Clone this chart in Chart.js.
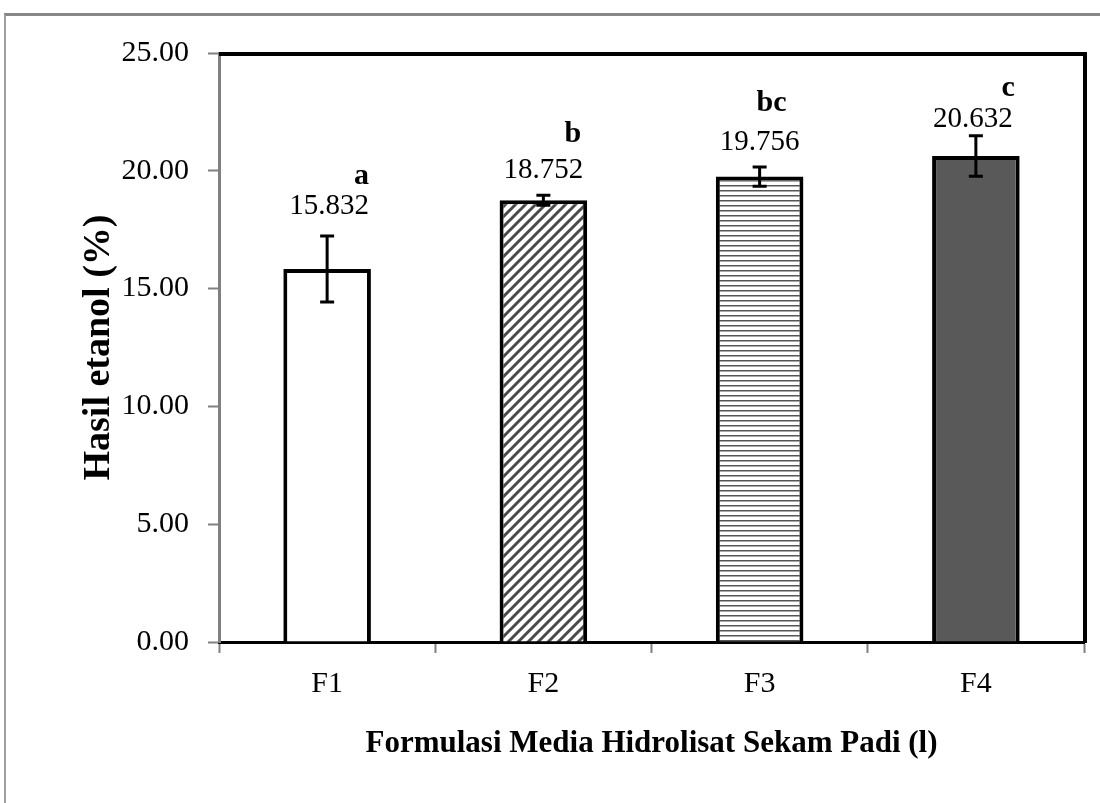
<!DOCTYPE html>
<html>
<head>
<meta charset="utf-8">
<script src="https://cdn.jsdelivr.net/npm/chart.js@4.4.1/dist/chart.umd.min.js"></script>
<style>
  html, body { margin: 0; padding: 0; background: #fff; overflow: hidden; }
  #wrap { position: relative; width: 1100px; height: 803px; }
  #frame {
    position: absolute; left: 4px; top: 13px; width: 1200px; height: 900px;
    border-top: 3px solid #878787; border-left: 2px solid #a0a0a0;
    box-sizing: border-box; pointer-events: none;
  }
  canvas { position: absolute; left: 0; top: 0; }
</style>
</head>
<body>
<div id="wrap">
  <div id="frame"></div>
  <canvas id="chart" width="1100" height="803"></canvas>
</div>
<script>
// Ethanol yield per hydrolysate medium formulation
const categories = ['F1', 'F2', 'F3', 'F4'];
const ethanolYield = [15.832, 18.752, 19.756, 20.632];
const stdError = [1.40, 0.21, 0.41, 0.86];
const significance = ['a', 'b', 'bc', 'c'];
const yAxisMin = 0;
const yAxisMax = 25;
const yAxisStep = 5;

// Placement of the value text and the significance letter (pixels)
const valueTextShift = [
  { dx: 2, dy: 22 },
  { dx: 0, dy: 17 },
  { dx: 0, dy: 17 },
  { dx: -3, dy: 9 }
];
const letterShift = [
  { dx: 0, dy: 30 },
  { dx: -2, dy: 36 },
  { dx: -13, dy: 39 },
  { dx: 2, dy: 31 }
];

const SERIF = '"Liberation Serif", "Times New Roman", serif';

function diagonalHatch() {
  const c = document.createElement('canvas');
  c.width = 10; c.height = 10;
  const g = c.getContext('2d');
  g.fillStyle = '#fff';
  g.fillRect(0, 0, 10, 10);
  g.strokeStyle = '#4a4a4a';
  g.lineWidth = 3;
  g.beginPath();
  g.moveTo(-5, 5); g.lineTo(5, -5);
  g.moveTo(0, 10); g.lineTo(10, 0);
  g.moveTo(5, 15); g.lineTo(15, 5);
  g.stroke();
  return g.createPattern(c, 'repeat');
}

function horizontalHatch() {
  const c = document.createElement('canvas');
  c.width = 6; c.height = 5;
  const g = c.getContext('2d');
  g.fillStyle = '#fff';
  g.fillRect(0, 0, 6, 5);
  g.fillStyle = '#555';
  g.fillRect(0, 0, 6, 1.5);
  return g.createPattern(c, 'repeat');
}

const ctx = document.getElementById('chart').getContext('2d');

// Error bars, value text and significance letters
const annotations = {
  id: 'annotations',
  afterDatasetsDraw(chart) {
    const g = chart.ctx;
    const y = chart.scales.y;
    const meta = chart.getDatasetMeta(0);
    g.save();
    meta.data.forEach((bar, i) => {
      const x = bar.x;
      const top = y.getPixelForValue(ethanolYield[i] + stdError[i]);
      const bottom = y.getPixelForValue(ethanolYield[i] - stdError[i]);
      g.strokeStyle = '#000';
      g.lineWidth = 3;
      g.beginPath();
      g.moveTo(x, top); g.lineTo(x, bottom);
      g.moveTo(x - 7, top); g.lineTo(x + 7, top);
      g.moveTo(x - 7, bottom); g.lineTo(x + 7, bottom);
      g.stroke();

      const text = ethanolYield[i].toFixed(3);
      g.font = '29px ' + SERIF;
      g.fillStyle = '#000';
      g.textAlign = 'center';
      g.textBaseline = 'alphabetic';
      const tx = x + valueTextShift[i].dx;
      const ty = top - valueTextShift[i].dy;
      g.fillText(text, tx, ty);
      const right = tx + g.measureText(text).width / 2;

      g.font = 'bold 30px ' + SERIF;
      g.textAlign = 'right';
      g.fillText(significance[i], right + letterShift[i].dx, ty - letterShift[i].dy);
    });
    g.restore();
  }
};

// Heavy black frame on the top and right of the plot area
const plotFrame = {
  id: 'plotFrame',
  afterDraw(chart) {
    const { left, right, top } = chart.chartArea;
    const g = chart.ctx;
    g.save();
    g.strokeStyle = '#000';
    g.lineWidth = 4;
    g.beginPath();
    g.moveTo(left, top + 1);
    g.lineTo(right + 1, top + 1);
    g.lineTo(right + 1, chart.scales.y.bottom + 1);
    g.stroke();
    g.restore();
  }
};

new Chart(ctx, {
  type: 'bar',
  data: {
    labels: categories,
    datasets: [{
      data: ethanolYield,
      backgroundColor: ['#ffffff', diagonalHatch(), horizontalHatch(), '#595959'],
      borderColor: '#000',
      borderWidth: 4,
      categoryPercentage: 1,
      barPercentage: 0.405
    }]
  },
  options: {
    responsive: false,
    animation: false,
    layout: { padding: { top: 53, right: 16, left: 0, bottom: 0 } },
    plugins: { legend: { display: false }, tooltip: { enabled: false } },
    scales: {
      x: {
        grid: {
          display: true, drawOnChartArea: false, offset: true,
          tickLength: 11, tickColor: '#808080', tickWidth: 2
        },
        border: { display: true, color: '#000', width: 3 },
        ticks: { color: '#000', font: { family: SERIF, size: 30 }, padding: 13 },
        title: {
          display: true,
          text: 'Formulasi Media Hidrolisat Sekam Padi (l)',
          color: '#000',
          font: { family: SERIF, size: 31, weight: 'bold' },
          padding: { top: 0, bottom: 40 }
        },
        afterFit(scale) { scale.height = 161; }
      },
      y: {
        min: yAxisMin,
        max: yAxisMax,
        grid: {
          display: true, drawOnChartArea: false,
          tickLength: 11, tickColor: '#808080', tickWidth: 2
        },
        border: { display: true, color: '#808080', width: 3 },
        ticks: {
          stepSize: yAxisStep,
          color: '#000',
          font: { family: SERIF, size: 30 },
          padding: 19,
          callback: v => Number(v).toFixed(2)
        },
        title: {
          display: true,
          text: 'Hasil etanol (%)',
          color: '#000',
          font: { family: SERIF, size: 38, weight: 'bold' },
          padding: { top: 76, bottom: 0 }
        },
        afterFit(scale) { scale.width = 219; }
      }
    }
  },
  plugins: [annotations, plotFrame]
});
</script>
</body>
</html>
